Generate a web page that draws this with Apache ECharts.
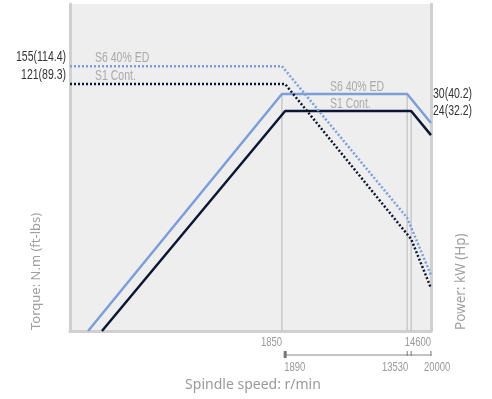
<!DOCTYPE html>
<html>
<head>
<meta charset="utf-8"/>
<script src="https://cdn.jsdelivr.net/npm/echarts@6/dist/echarts.min.js"></script>
<style>html,body{margin:0;padding:0;background:#fff;}</style>
</head>
<body>
<div id="main" style="width:492px;height:399px;"></div>
<script type="text/javascript">
// the chart is a schematic: speed, power and torque each sit on a piecewise scale
// (value stops and where they sit, in % of the plot)
var speedStops  = [0, 1850, 1890, 13530, 14600, 20000];
var speedPos    = [0, 58.7, 59.6, 93.4, 94.5, 100];
var powerStops  = [0, 16, 20, 24, 30];
var powerPos    = [0, 59.9, 63.6, 67.3, 72.5];
var torqueStops = [0, 7.6, 9.5, 15.7, 21.2, 121, 155];
var torquePos   = [0, 13.1, 17.1, 28.1, 34.6, 75.5, 81.0];

// S6 40% ED
var s6PowerSpeed  = [158, 1850, 13530, 20000];
var s6Power       = [0, 30, 30, 20];
var s6TorqueSpeed = [0, 1850, 13530, 20000];
var s6Torque      = [155, 155, 21.2, 9.5];
// S1 Cont.
var s1PowerSpeed  = [279, 1890, 14600, 20000];
var s1Power       = [0, 24, 24, 16];
var s1TorqueSpeed = [0, 1890, 14600, 20000];
var s1Torque      = [121, 121, 15.7, 7.6];

// axis labels
var torqueLabels = [[155, '155(114.4)'], [121, '121(89.3)']];
var powerLabels  = [[30, '30(40.2)'], [24, '24(32.2)']];
var speedTopLabels    = [1850, 14600];
var speedBottomLabels = [1890, 13530, 20000];
var speedTicks        = [1890, 13530, 14600, 20000];

var S6_COLOR = '#7c9fd9';
var S1_COLOR = '#0c1733';
var NARROW = '"Liberation Sans", Arial, sans-serif';   // squeezed with scaleX below
var SANS = '"Noto Sans", "Open Sans", sans-serif';

function interp(v, stops, pos) {
    for (var i = 1; i < stops.length; i++) {
        if (v <= stops[i]) {
            return pos[i - 1] + (v - stops[i - 1]) / (stops[i] - stops[i - 1]) * (pos[i] - pos[i - 1]);
        }
    }
    return pos[pos.length - 1];
}
function sx(v) { return interp(v, speedStops, speedPos); }
function py(v) { return interp(v, powerStops, powerPos); }
function ty(v) { return interp(v, torqueStops, torquePos); }

function curve(speeds, vals, f) {
    return speeds.map(function (s, i) { return [sx(s), f(vals[i])]; });
}
function guide(speed, power) {
    return [[sx(speed), py(power)], [sx(speed), 0]];
}

var myChart = echarts.init(document.getElementById('main'));

var axisLine = { show: true, onZero: false, lineStyle: { color: '#d0d0d0', width: 3 } };

var option = {
    animation: false,
    grid: { left: 70, right: 61, top: 4, bottom: 68, show: true, backgroundColor: '#eeeeee', borderWidth: 0 },
    xAxis: {
        type: 'value', min: 0, max: 100,
        axisLine: axisLine, axisTick: { show: false }, axisLabel: { show: false }, splitLine: { show: false }
    },
    yAxis: [
        { type: 'value', min: 0, max: 100, position: 'left',
          axisLine: axisLine, axisTick: { show: false }, axisLabel: { show: false }, splitLine: { show: false } },
        { type: 'value', min: 0, max: 100, position: 'right',
          axisLine: axisLine, axisTick: { show: false }, axisLabel: { show: false }, splitLine: { show: false } }
    ],
    series: [
        { type: 'line', data: guide(1850, 30), symbol: 'none', silent: true, lineStyle: { color: '#c9c9c9', width: 1.5 } },
        { type: 'line', data: guide(13530, 30), symbol: 'none', silent: true, lineStyle: { color: '#c9c9c9', width: 1.5 } },
        { type: 'line', data: guide(14600, 24), symbol: 'none', silent: true, lineStyle: { color: '#c9c9c9', width: 1.5 } },
        { name: 'S6 power', type: 'line', data: curve(s6PowerSpeed, s6Power, py), symbol: 'none',
          lineStyle: { color: S6_COLOR, width: 2.5 } },
        { name: 'S1 power', type: 'line', data: curve(s1PowerSpeed, s1Power, py), symbol: 'none',
          lineStyle: { color: S1_COLOR, width: 2.5 } },
        { name: 'S6 torque', type: 'line', data: curve(s6TorqueSpeed, s6Torque, ty), symbol: 'none',
          lineStyle: { color: S6_COLOR, width: 2.5, type: [2, 2] } },
        { name: 'S1 torque', type: 'line', data: curve(s1TorqueSpeed, s1Torque, ty), symbol: 'none',
          lineStyle: { color: S1_COLOR, width: 2.5, type: [2, 2] } }
    ]
};
myChart.setOption(option);

// labels placed from the chart's own coordinate system
function px(x, y) { return myChart.convertToPixel({ gridIndex: 0 }, [x, y]); }
function text(x, y, str, font, color, align, valign, rot, squeeze) {
    return {
        type: 'text', x: x, y: y, rotation: rot || 0, scaleX: squeeze || 1, silent: true,
        style: { text: str, font: font, fill: color, align: align, textAlign: align,
                 verticalAlign: valign, textVerticalAlign: valign }
    };
}
function narrow(x, y, str, size, color, align, valign, squeeze) {
    return text(x, y, str, size + 'px ' + NARROW, color, align, valign, 0, squeeze);
}

var g = [];
var origin = px(0, 0);
var plotRight = px(100, 0)[0];

torqueLabels.forEach(function (t) {
    var p = px(0, ty(t[0]));
    g.push(narrow(p[0] - 4, p[1] - 2, t[1], 14, '#333', 'right', 'bottom', 0.75));
});
powerLabels.forEach(function (t) {
    var p = px(100, py(t[0]));
    g.push(narrow(p[0] + 2, p[1], t[1], 14, '#333', 'left', 'middle', 0.75));
});

// curve names inside the plot
var leftS6 = px(0, ty(155)), leftS1 = px(0, ty(121));
g.push(narrow(origin[0] + 25, leftS6[1] - 1, 'S6 40% ED', 15, '#aaa', 'left', 'bottom', 0.7));
g.push(narrow(origin[0] + 25, leftS1[1] - 1, 'S1 Cont.', 15, '#aaa', 'left', 'bottom', 0.7));
var rightS6 = px(sx(1850), py(30)), rightS1 = px(sx(1850), py(24));
g.push(narrow(rightS6[0] + 48, rightS6[1], 'S6 40% ED', 15, '#aaa', 'left', 'bottom', 0.7));
g.push(narrow(rightS1[0] + 48, rightS1[1], 'S1 Cont.', 15, '#aaa', 'left', 'bottom', 0.7));

// speed labels: top row right-aligned
g.push(narrow(px(sx(1850), 0)[0], origin[1] + 11, String(speedTopLabels[0]), 13.5, '#999', 'right', 'middle', 0.7));
g.push(narrow(plotRight, origin[1] + 11, String(speedTopLabels[1]), 13.5, '#999', 'right', 'middle', 0.7));

// secondary speed scale below
var barY = origin[1] + 24;
g.push({ type: 'line', silent: true,
         shape: { x1: px(sx(1890), 0)[0], y1: barY, x2: plotRight, y2: barY },
         style: { stroke: '#888', lineWidth: 1 } });
speedTicks.forEach(function (s, i) {
    var x = px(sx(s), 0)[0];
    g.push({ type: 'line', silent: true,
             shape: { x1: x, y1: barY - 4, x2: x, y2: i === 0 ? barY + 3 : barY + 1 },
             style: { stroke: '#777', lineWidth: i === 0 ? 3 : 1 } });
});
var lowY = barY + 12;
g.push(narrow(px(sx(1890), 0)[0] - 1, lowY, String(speedBottomLabels[0]), 13.5, '#999', 'left', 'middle', 0.7));
g.push(narrow(px(sx(13530), 0)[0] + 1, lowY, String(speedBottomLabels[1]), 13.5, '#999', 'right', 'middle', 0.7));
g.push(narrow(plotRight - 7, lowY, String(speedBottomLabels[2]), 13.5, '#999', 'left', 'middle', 0.7));

// axis names
g.push(text(36, origin[1] - 1, 'Torque: N.m (ft-lbs)', '13px ' + SANS, '#a0a0a0', 'left', 'middle', Math.PI / 2));
g.push(text(461, origin[1] - 1, 'Power: kW (Hp)', '13.5px ' + SANS, '#a0a0a0', 'left', 'middle', Math.PI / 2));
g.push(text(253, 385, 'Spindle speed: r/min', '14px ' + SANS, '#999', 'center', 'middle'));

myChart.setOption({ graphic: { elements: g } });
</script>
</body>
</html>
